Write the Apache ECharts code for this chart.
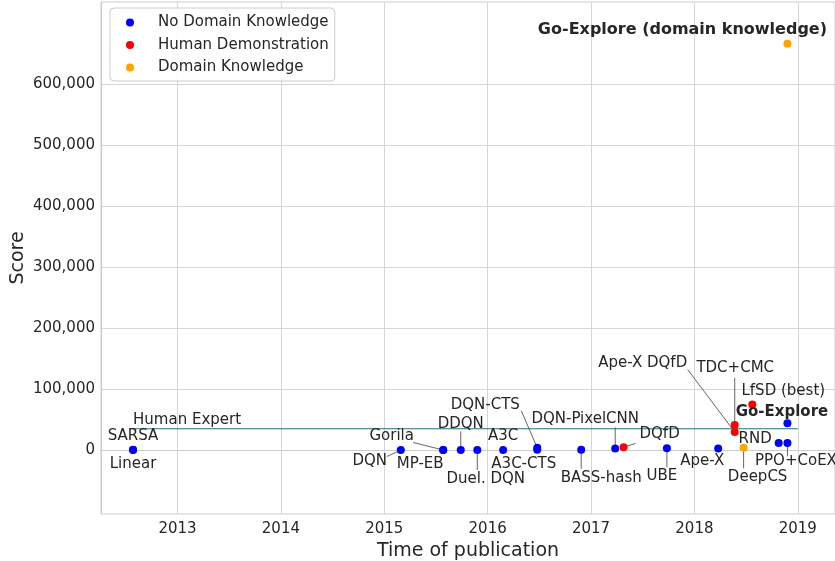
<!DOCTYPE html>
<html>
<head>
<meta charset="utf-8">
<title>Montezuma's Revenge scores over time</title>
<script src="https://cdn.jsdelivr.net/npm/echarts@6/dist/echarts.min.js"></script>
<style>
  html, body { margin: 0; padding: 0; background: #fff; }
  #chart { width: 835px; height: 561px; }
</style>
</head>
<body>
<div id="chart"></div>
<script>
// publication date (fractional year) and score for each method
var ndkNames = ['SARSA', 'Linear', 'DQN', 'Gorila', 'MP-EB', 'DDQN', 'Duel. DQN', 'A3C', 'DQN-CTS', 'A3C-CTS',
    'BASS-hash', 'DQN-PixelCNN', 'UBE', 'Ape-X', 'RND', 'PPO+CoEX', 'Go-Explore'];
var ndkDates = [2012.57, 2012.57, 2015.16, 2015.57, 2015.57, 2015.74, 2015.90, 2016.15, 2016.48, 2016.48,
    2016.905, 2017.234, 2017.734, 2018.23, 2018.815, 2018.90, 2018.90];
var ndkScores = [259, 0, 0, 4, 142, 0, 0, 67, 3705, 273, 238, 2514, 3000, 2500, 11347, 11618, 43763];

var demoNames = ['DQfD', 'Ape-X DQfD', 'TDC+CMC', 'LfSD (best)'];
var demoDates = [2017.315, 2018.39, 2018.39, 2018.56];
var demoScores = [4640, 29384, 41098, 74500];

var dkNames = ['DeepCS', 'Go-Explore (domain knowledge)'];
var dkDates = [2018.476, 2018.90];
var dkScores = [3500, 666474];

var humanExpertDates = [2012.57, 2019.0];
var humanExpertScore = 34900;

var yearTicks = [2013, 2014, 2015, 2016, 2017, 2018, 2019];
var scoreTicks = [0, 100000, 200000, 300000, 400000, 500000, 600000];

// annotation text centre relative to its point, in px: [dx, dy]
var labelPlace = {
    'SARSA': [0, -13.5],
    'Linear': [0, 14],
    'DQN': [-31, 11],
    'Gorila': [-51.5, -13.5],
    'MP-EB': [-23, 14.5],
    'DDQN': [0, -25.5],
    'Duel. DQN': [8.5, 29.5],
    'A3C': [0, -13.5],
    'DQN-CTS': [-52, -43],
    'A3C-CTS': [-13.5, 14],
    'BASS-hash': [20, 28.5],
    'DQN-PixelCNN': [-30, -29],
    'UBE': [-5, 28],
    'Ape-X': [-16, 13],
    'RND': [-23.5, -3.5],
    'PPO+CoEX': [8.5, 18.5],
    'Go-Explore': [-5.5, -11],
    'DQfD': [36, -13],
    'Ape-X DQfD': [-92, -68.5],
    'TDC+CMC': [0.5, -56.5],
    'LfSD (best)': [31, -13],
    'DeepCS': [14, 29.5],
    'Go-Explore (domain knowledge)': [-105, -14]
};

// leader line: text-side end relative to the point, in px
var leaderEnd = {
    'DQN': [-14, 6.5],
    'Gorila': [-30, -7.5],
    'DDQN': [0, -18.5],
    'Duel. DQN': [0, 20],
    'DQN-CTS': [-16, -37],
    'BASS-hash': [0, 19],
    'DQN-PixelCNN': [0, -21],
    'UBE': [0, 19],
    'DQfD': [12, -3.7],
    'Ape-X DQfD': [-47, -62.5],
    'TDC+CMC': [0, -47],
    'DeepCS': [0, 20.5],
    'PPO+CoEX': [0, 13.5]
};

var textColor = '#262626';
var font = 'DejaVu Sans';

function buildData(names, dates, scores) {
    var out = [];
    for (var i = 0; i < names.length; i++) {
        var item = { name: names[i], value: [dates[i], scores[i]] };
        if (names[i] === 'Go-Explore') {
            item.label = { fontWeight: 'bold' };
        } else if (names[i] === 'Go-Explore (domain knowledge)') {
            item.label = { fontWeight: 'bold', fontSize: 16 };
        }
        out.push(item);
    }
    return out;
}

function placeLabel(params) {
    var place = labelPlace[params.text] || [0, 0];
    return { dx: place[0], dy: place[1] };
}

function scatterSeries(name, color, data) {
    return {
        name: name,
        type: 'scatter',
        symbolSize: 8,
        itemStyle: { color: color, opacity: 1 },
        data: data,
        z: 3,
        label: {
            show: true,
            formatter: '{b}',
            position: 'inside',
            color: textColor,
            fontFamily: font,
            fontSize: 15
        },
        labelLayout: placeLabel,
        emphasis: { disabled: true }
    };
}

// leader lines start at the data points
var leaderData = [];
var allNames = ndkNames.concat(demoNames, dkNames);
var allDates = ndkDates.concat(demoDates, dkDates);
var allScores = ndkScores.concat(demoScores, dkScores);
for (var k = 0; k < allNames.length; k++) {
    if (leaderEnd[allNames[k]]) {
        leaderData.push({ name: allNames[k], value: [allDates[k], allScores[k]] });
    }
}

var humanExpertData = [];
for (var h = 0; h < humanExpertDates.length; h++) {
    humanExpertData.push({
        value: [humanExpertDates[h], humanExpertScore],
        label: { show: h === 0 }
    });
}

var option = {
    animation: false,
    backgroundColor: '#ffffff',
    textStyle: { fontFamily: font },
    grid: {
        left: 101, right: 0, top: 2, bottom: 47,
        outerBoundsMode: 'none',
        containLabel: false,
        show: true, borderColor: '#cccccc', borderWidth: 1
    },
    legend: {
        data: ['No Domain Knowledge', 'Human Demonstration', 'Domain Knowledge'],
        orient: 'vertical',
        left: 110,
        top: 8,
        padding: [6, 6, 5, 16],
        itemGap: 5.5,
        itemWidth: 36,
        itemHeight: 8,
        icon: 'circle',
        backgroundColor: 'rgba(255,255,255,0.85)',
        borderColor: '#cccccc',
        borderWidth: 1,
        borderRadius: 4,
        textStyle: { color: textColor, fontSize: 15, fontFamily: font, lineHeight: 17, padding: [0, 0, 0, 5] }
    },
    xAxis: {
        type: 'value',
        min: 2012.26,
        max: 2019.36,
        name: 'Time of publication',
        nameLocation: 'middle',
        nameGap: 25,
        nameTextStyle: { color: textColor, fontSize: 19, fontFamily: font },
        axisLine: { show: true, lineStyle: { color: '#cccccc' } },
        axisTick: { show: false, customValues: yearTicks },
        axisLabel: {
            customValues: yearTicks,
            color: textColor, fontSize: 15, fontFamily: font, margin: 8,
            formatter: function (v) { return String(v); }
        },
        splitLine: { show: true, lineStyle: { color: '#d6d6d6', width: 1 } }
    },
    yAxis: {
        type: 'value',
        min: -105000,
        max: 735000,
        name: 'Score',
        nameLocation: 'middle',
        nameGap: 73,
        nameMoveOverlap: false,
        nameTextStyle: { color: textColor, fontSize: 19, fontFamily: font },
        axisLine: { show: true, lineStyle: { color: '#cccccc' } },
        axisTick: { show: false, customValues: scoreTicks },
        axisLabel: {
            customValues: scoreTicks,
            color: textColor,
            fontSize: 15,
            fontFamily: font,
            margin: 6,
            formatter: function (v) { return v.toLocaleString('en-US'); }
        },
        splitLine: { show: true, lineStyle: { color: '#d6d6d6', width: 1 } }
    },
    series: [
        {
            name: 'Human Expert',
            type: 'line',
            data: humanExpertData,
            symbol: 'circle',
            symbolSize: 0.1,
            showSymbol: true,
            lineStyle: { color: '#27716d', width: 1.2 },
            itemStyle: { color: '#27716d' },
            z: 2,
            label: {
                formatter: 'Human Expert',
                position: 'top',
                distance: 1,
                align: 'left',
                color: textColor,
                fontFamily: font,
                fontSize: 15
            },
            emphasis: { disabled: true }
        },
        {
            name: 'leaders',
            type: 'custom',
            data: leaderData,
            encode: { x: 0, y: 1 },
            z: 2,
            silent: true,
            renderItem: function (params, api) {
                var p = api.coord([api.value(0), api.value(1)]);
                var end = leaderEnd[leaderData[params.dataIndex].name];
                return {
                    type: 'line',
                    shape: { x1: p[0], y1: p[1], x2: p[0] + end[0], y2: p[1] + end[1] },
                    style: { stroke: '#555555', lineWidth: 0.9 }
                };
            }
        },
        scatterSeries('No Domain Knowledge', '#0000ff', buildData(ndkNames, ndkDates, ndkScores)),
        scatterSeries('Human Demonstration', '#ff0000', buildData(demoNames, demoDates, demoScores)),
        scatterSeries('Domain Knowledge', '#ffa500', buildData(dkNames, dkDates, dkScores))
    ]
};

var myChart = echarts.init(document.getElementById('chart'), null, { renderer: 'canvas' });
myChart.setOption(option);
</script>
</body>
</html>
